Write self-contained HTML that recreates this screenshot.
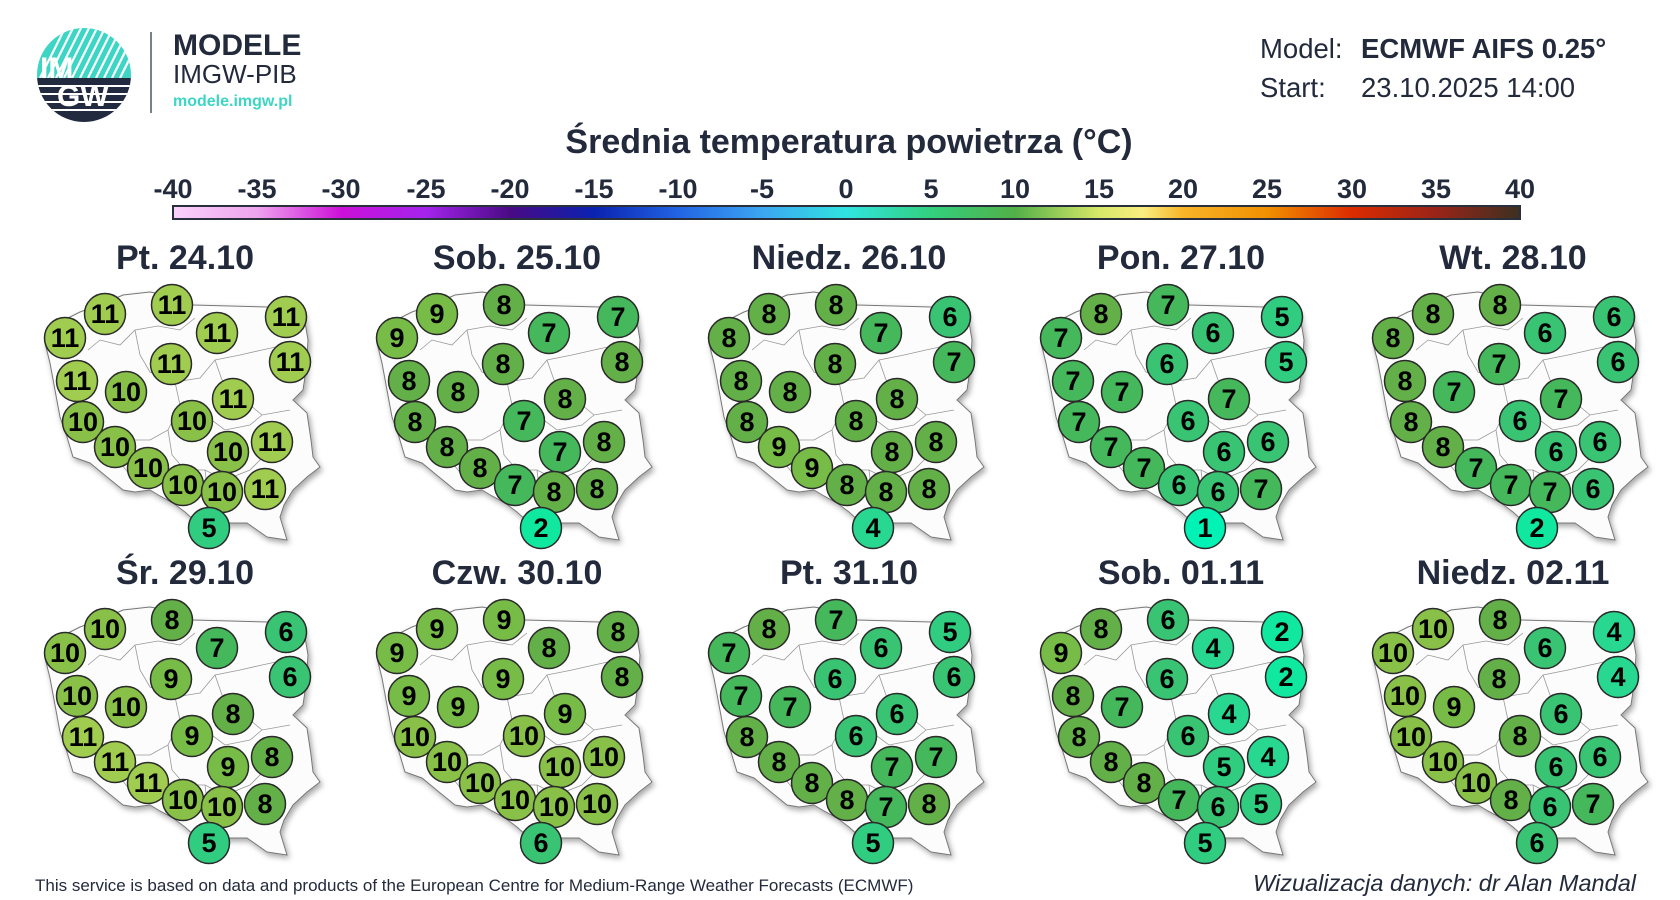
<!DOCTYPE html>
<html><head><meta charset="utf-8"><style>
html,body{margin:0;padding:0;background:#fff;}
svg{display:block;font-family:"Liberation Sans",sans-serif;}
.n{font-weight:bold;font-size:27px;fill:#000;text-anchor:middle;}
.c circle{stroke:#2a2a2a;stroke-width:1.5;}
.d{font-weight:bold;font-size:34px;fill:#222a3c;text-anchor:middle;}
.t{font-weight:bold;font-size:27px;fill:#222a3c;text-anchor:middle;}
</style></head><body>
<svg width="1680" height="900" viewBox="0 0 1680 900" xmlns="http://www.w3.org/2000/svg">
<defs>
<linearGradient id="cb" x1="0" x2="1" y1="0" y2="0">
<stop offset="0" stop-color="#fad2fa"/><stop offset="0.0625" stop-color="#eea4ee"/><stop offset="0.125" stop-color="#cc10d8"/><stop offset="0.1875" stop-color="#a424ec"/><stop offset="0.25" stop-color="#4a0a86"/><stop offset="0.3125" stop-color="#0a22b0"/><stop offset="0.375" stop-color="#2264e4"/><stop offset="0.4375" stop-color="#3ca6f2"/><stop offset="0.5" stop-color="#30e4e0"/><stop offset="0.5625" stop-color="#32d07e"/><stop offset="0.625" stop-color="#52b048"/><stop offset="0.6875" stop-color="#d8e868"/><stop offset="0.72" stop-color="#f8ee80"/><stop offset="0.75" stop-color="#f8b428"/><stop offset="0.8125" stop-color="#f09000"/><stop offset="0.875" stop-color="#dc2c00"/><stop offset="0.9375" stop-color="#9a2418"/><stop offset="1" stop-color="#3c3020"/>
</linearGradient>
<filter id="sh" x="-10%" y="-10%" width="120%" height="120%"><feDropShadow dx="2" dy="3" stdDeviation="3" flood-color="#000" flood-opacity="0.35"/></filter>
<clipPath id="lc"><circle cx="84" cy="75" r="47"/></clipPath>
<g id="pl">
<path filter="url(#sh)" fill="#fcfcfc" stroke="#777" stroke-width="1" d="M45,343 L52,326 L80,312 L105,303 L123,295 L150,292 L172,296 L193,305 L230,306 L267,307 L303,310 L308,340 L306,370 L303,390 L293,400 L307,413 L311,440 L313,457 L320,467 L307,477 L293,490 L284,505 L280,517 L287,540 L267,537 L247,523 L227,523 L212,520 L197,523 L185,512 L173,503 L160,496 L150,490 L135,492 L123,490 L107,477 L90,463 L73,457 L67,437 L60,417 L55,390 L50,363 Z"/>
<path fill="none" stroke="#999" stroke-width="0.8" d="M88,350 L100,340 L120,345 L135,330 L158,326 L180,330 L195,318 M135,330 L140,355 L150,372 L175,382 L200,378 L215,360 L240,355 L262,350 L285,345 M215,360 L222,380 L238,395 L262,415 L290,410 M175,382 L180,405 L168,430 L150,440 L125,440 L100,430 L80,410 M180,405 L205,415 L225,430 L250,425 L262,415 M168,430 L172,455 L185,470 L205,470 L225,480 L250,470 L265,455 M205,470 L208,495 L220,510 M120,440 L118,460 L130,475"/>
</g>
</defs>

<g clip-path="url(#lc)">
<rect x="30" y="23" width="110" height="55" fill="#3dd6c4"/>
<g stroke="#fff" stroke-width="2.2">
<line x1="40" y1="78" x2="70" y2="18"/><line x1="48" y1="78" x2="78" y2="18"/><line x1="56" y1="78" x2="86" y2="18"/><line x1="64" y1="78" x2="94" y2="18"/><line x1="72" y1="78" x2="102" y2="18"/><line x1="80" y1="78" x2="110" y2="18"/><line x1="88" y1="78" x2="118" y2="18"/><line x1="96" y1="78" x2="126" y2="18"/><line x1="104" y1="78" x2="134" y2="18"/><line x1="112" y1="78" x2="142" y2="18"/><line x1="120" y1="78" x2="150" y2="18"/>
</g>
<rect x="30" y="78" width="110" height="50" fill="#222a40"/>
<g stroke="#fff" stroke-width="2"><line x1="30" y1="86" x2="140" y2="86"/><line x1="30" y1="94" x2="140" y2="94"/><line x1="30" y1="102" x2="140" y2="102"/><line x1="30" y1="110" x2="140" y2="110"/></g>
</g>
<text x="40" y="78" font-size="30" font-weight="bold" fill="#fff">IM</text>
<text x="57" y="106" font-size="30" font-weight="bold" fill="#fff">GW</text>
<line x1="151" y1="32" x2="151" y2="113" stroke="#7a7f8c" stroke-width="2"/>
<text x="173" y="55" font-size="30" font-weight="bold" fill="#222a3c">MODELE</text>
<text x="173" y="83" font-size="26" fill="#222a3c">IMGW-PIB</text>
<text x="173" y="106" font-size="16" font-weight="bold" fill="#3dd6c4">modele.imgw.pl</text>

<text x="1260" y="58" font-size="27.5" fill="#222a3c">Model:</text>
<text x="1361" y="58" font-size="27.5" font-weight="bold" fill="#222a3c">ECMWF AIFS 0.25°</text>
<text x="1260" y="97" font-size="27.5" fill="#222a3c">Start:</text>
<text x="1361" y="97" font-size="27.5" fill="#222a3c">23.10.2025 14:00</text>

<text x="849" y="153" font-size="34" font-weight="bold" fill="#222a3c" text-anchor="middle">Średnia temperatura powietrza (°C)</text>

<rect x="173" y="206" width="1347" height="13" fill="url(#cb)" stroke="#2a2f3c" stroke-width="2"/>
<g class="t">
<text x="173" y="198">-40</text><text x="257" y="198">-35</text><text x="341" y="198">-30</text><text x="426" y="198">-25</text><text x="510" y="198">-20</text><text x="594" y="198">-15</text><text x="678" y="198">-10</text><text x="762" y="198">-5</text><text x="846" y="198">0</text><text x="931" y="198">5</text><text x="1015" y="198">10</text><text x="1099" y="198">15</text><text x="1183" y="198">20</text><text x="1267" y="198">25</text><text x="1352" y="198">30</text><text x="1436" y="198">35</text><text x="1520" y="198">40</text>
</g>

<g class="d">
<text x="185" y="269">Pt. 24.10</text><text x="517" y="269">Sob. 25.10</text><text x="849" y="269">Niedz. 26.10</text><text x="1181" y="269">Pon. 27.10</text><text x="1513" y="269">Wt. 28.10</text>
<text x="185" y="584">Śr. 29.10</text><text x="517" y="584">Czw. 30.10</text><text x="849" y="584">Pt. 31.10</text><text x="1181" y="584">Sob. 01.11</text><text x="1513" y="584">Niedz. 02.11</text>
</g>

<g id="m1">
<use href="#pl"/>
<g class="c">
<circle cx="65" cy="338" r="20.5" fill="#a0cc50"/><circle cx="105" cy="314" r="20.5" fill="#a0cc50"/><circle cx="172" cy="305" r="20.5" fill="#a0cc50"/><circle cx="217" cy="333" r="20.5" fill="#a0cc50"/><circle cx="286" cy="317" r="20.5" fill="#a0cc50"/><circle cx="290" cy="362" r="20.5" fill="#a0cc50"/><circle cx="77" cy="381" r="20.5" fill="#a0cc50"/><circle cx="126" cy="392" r="20.5" fill="#88c048"/><circle cx="171" cy="364" r="20.5" fill="#a0cc50"/><circle cx="83" cy="422" r="20.5" fill="#88c048"/><circle cx="192" cy="421" r="20.5" fill="#88c048"/><circle cx="233" cy="399" r="20.5" fill="#a0cc50"/><circle cx="115" cy="447" r="20.5" fill="#88c048"/><circle cx="228" cy="452" r="20.5" fill="#88c048"/><circle cx="272" cy="442" r="20.5" fill="#a0cc50"/><circle cx="148" cy="468" r="20.5" fill="#88c048"/><circle cx="183" cy="485" r="20.5" fill="#88c048"/><circle cx="222" cy="492" r="20.5" fill="#88c048"/><circle cx="265" cy="489" r="20.5" fill="#a0cc50"/><circle cx="209" cy="528" r="20.5" fill="#30cc80"/>
</g>
</g>
<g class="n">
<text x="65" y="347">11</text><text x="105" y="323">11</text><text x="172" y="314">11</text><text x="217" y="342">11</text><text x="286" y="326">11</text><text x="290" y="371">11</text><text x="77" y="390">11</text><text x="126" y="401">10</text><text x="171" y="373">11</text><text x="83" y="431">10</text><text x="192" y="430">10</text><text x="233" y="408">11</text><text x="115" y="456">10</text><text x="228" y="461">10</text><text x="272" y="451">11</text><text x="148" y="477">10</text><text x="183" y="494">10</text><text x="222" y="501">10</text><text x="265" y="498">11</text><text x="209" y="537">5</text>
</g>

<g transform="translate(332,0)"><use href="#pl"/><g class="c">
<circle cx="65" cy="338" r="20.5" fill="#78bc48"/><circle cx="105" cy="314" r="20.5" fill="#78bc48"/><circle cx="172" cy="305" r="20.5" fill="#64b048"/><circle cx="217" cy="333" r="20.5" fill="#44b85a"/><circle cx="286" cy="317" r="20.5" fill="#44b85a"/><circle cx="290" cy="362" r="20.5" fill="#64b048"/><circle cx="77" cy="381" r="20.5" fill="#64b048"/><circle cx="126" cy="392" r="20.5" fill="#64b048"/><circle cx="171" cy="364" r="20.5" fill="#64b048"/><circle cx="83" cy="422" r="20.5" fill="#64b048"/><circle cx="192" cy="421" r="20.5" fill="#44b85a"/><circle cx="233" cy="399" r="20.5" fill="#64b048"/><circle cx="115" cy="447" r="20.5" fill="#64b048"/><circle cx="228" cy="452" r="20.5" fill="#44b85a"/><circle cx="272" cy="442" r="20.5" fill="#64b048"/><circle cx="148" cy="468" r="20.5" fill="#64b048"/><circle cx="183" cy="485" r="20.5" fill="#44b85a"/><circle cx="222" cy="492" r="20.5" fill="#64b048"/><circle cx="265" cy="489" r="20.5" fill="#64b048"/><circle cx="209" cy="528" r="20.5" fill="#10e8a0"/>
</g><g class="n">
<text x="65" y="347">9</text><text x="105" y="323">9</text><text x="172" y="314">8</text><text x="217" y="342">7</text><text x="286" y="326">7</text><text x="290" y="371">8</text><text x="77" y="390">8</text><text x="126" y="401">8</text><text x="171" y="373">8</text><text x="83" y="431">8</text><text x="192" y="430">7</text><text x="233" y="408">8</text><text x="115" y="456">8</text><text x="228" y="461">7</text><text x="272" y="451">8</text><text x="148" y="477">8</text><text x="183" y="494">7</text><text x="222" y="501">8</text><text x="265" y="498">8</text><text x="209" y="537">2</text>
</g></g>

<g transform="translate(664,0)"><use href="#pl"/><g class="c">
<circle cx="65" cy="338" r="20.5" fill="#64b048"/><circle cx="105" cy="314" r="20.5" fill="#64b048"/><circle cx="172" cy="305" r="20.5" fill="#64b048"/><circle cx="217" cy="333" r="20.5" fill="#44b85a"/><circle cx="286" cy="317" r="20.5" fill="#38c472"/><circle cx="290" cy="362" r="20.5" fill="#44b85a"/><circle cx="77" cy="381" r="20.5" fill="#64b048"/><circle cx="126" cy="392" r="20.5" fill="#64b048"/><circle cx="171" cy="364" r="20.5" fill="#64b048"/><circle cx="83" cy="422" r="20.5" fill="#64b048"/><circle cx="192" cy="421" r="20.5" fill="#64b048"/><circle cx="233" cy="399" r="20.5" fill="#64b048"/><circle cx="115" cy="447" r="20.5" fill="#78bc48"/><circle cx="228" cy="452" r="20.5" fill="#64b048"/><circle cx="272" cy="442" r="20.5" fill="#64b048"/><circle cx="148" cy="468" r="20.5" fill="#78bc48"/><circle cx="183" cy="485" r="20.5" fill="#64b048"/><circle cx="222" cy="492" r="20.5" fill="#64b048"/><circle cx="265" cy="489" r="20.5" fill="#64b048"/><circle cx="209" cy="528" r="20.5" fill="#28d890"/>
</g><g class="n">
<text x="65" y="347">8</text><text x="105" y="323">8</text><text x="172" y="314">8</text><text x="217" y="342">7</text><text x="286" y="326">6</text><text x="290" y="371">7</text><text x="77" y="390">8</text><text x="126" y="401">8</text><text x="171" y="373">8</text><text x="83" y="431">8</text><text x="192" y="430">8</text><text x="233" y="408">8</text><text x="115" y="456">9</text><text x="228" y="461">8</text><text x="272" y="451">8</text><text x="148" y="477">9</text><text x="183" y="494">8</text><text x="222" y="501">8</text><text x="265" y="498">8</text><text x="209" y="537">4</text>
</g></g>

<g transform="translate(996,0)"><use href="#pl"/><g class="c">
<circle cx="65" cy="338" r="20.5" fill="#44b85a"/><circle cx="105" cy="314" r="20.5" fill="#64b048"/><circle cx="172" cy="305" r="20.5" fill="#44b85a"/><circle cx="217" cy="333" r="20.5" fill="#38c472"/><circle cx="286" cy="317" r="20.5" fill="#30cc80"/><circle cx="290" cy="362" r="20.5" fill="#30cc80"/><circle cx="77" cy="381" r="20.5" fill="#44b85a"/><circle cx="126" cy="392" r="20.5" fill="#44b85a"/><circle cx="171" cy="364" r="20.5" fill="#38c472"/><circle cx="83" cy="422" r="20.5" fill="#44b85a"/><circle cx="192" cy="421" r="20.5" fill="#38c472"/><circle cx="233" cy="399" r="20.5" fill="#44b85a"/><circle cx="115" cy="447" r="20.5" fill="#44b85a"/><circle cx="228" cy="452" r="20.5" fill="#38c472"/><circle cx="272" cy="442" r="20.5" fill="#38c472"/><circle cx="148" cy="468" r="20.5" fill="#44b85a"/><circle cx="183" cy="485" r="20.5" fill="#38c472"/><circle cx="222" cy="492" r="20.5" fill="#38c472"/><circle cx="265" cy="489" r="20.5" fill="#44b85a"/><circle cx="209" cy="528" r="20.5" fill="#00f2b4"/>
</g><g class="n">
<text x="65" y="347">7</text><text x="105" y="323">8</text><text x="172" y="314">7</text><text x="217" y="342">6</text><text x="286" y="326">5</text><text x="290" y="371">5</text><text x="77" y="390">7</text><text x="126" y="401">7</text><text x="171" y="373">6</text><text x="83" y="431">7</text><text x="192" y="430">6</text><text x="233" y="408">7</text><text x="115" y="456">7</text><text x="228" y="461">6</text><text x="272" y="451">6</text><text x="148" y="477">7</text><text x="183" y="494">6</text><text x="222" y="501">6</text><text x="265" y="498">7</text><text x="209" y="537">1</text>
</g></g>

<g transform="translate(1328,0)"><use href="#pl"/><g class="c">
<circle cx="65" cy="338" r="20.5" fill="#64b048"/><circle cx="105" cy="314" r="20.5" fill="#64b048"/><circle cx="172" cy="305" r="20.5" fill="#64b048"/><circle cx="217" cy="333" r="20.5" fill="#38c472"/><circle cx="286" cy="317" r="20.5" fill="#38c472"/><circle cx="290" cy="362" r="20.5" fill="#38c472"/><circle cx="77" cy="381" r="20.5" fill="#64b048"/><circle cx="126" cy="392" r="20.5" fill="#44b85a"/><circle cx="171" cy="364" r="20.5" fill="#44b85a"/><circle cx="83" cy="422" r="20.5" fill="#64b048"/><circle cx="192" cy="421" r="20.5" fill="#38c472"/><circle cx="233" cy="399" r="20.5" fill="#44b85a"/><circle cx="115" cy="447" r="20.5" fill="#64b048"/><circle cx="228" cy="452" r="20.5" fill="#38c472"/><circle cx="272" cy="442" r="20.5" fill="#38c472"/><circle cx="148" cy="468" r="20.5" fill="#44b85a"/><circle cx="183" cy="485" r="20.5" fill="#44b85a"/><circle cx="222" cy="492" r="20.5" fill="#44b85a"/><circle cx="265" cy="489" r="20.5" fill="#38c472"/><circle cx="209" cy="528" r="20.5" fill="#10e8a0"/>
</g><g class="n">
<text x="65" y="347">8</text><text x="105" y="323">8</text><text x="172" y="314">8</text><text x="217" y="342">6</text><text x="286" y="326">6</text><text x="290" y="371">6</text><text x="77" y="390">8</text><text x="126" y="401">7</text><text x="171" y="373">7</text><text x="83" y="431">8</text><text x="192" y="430">6</text><text x="233" y="408">7</text><text x="115" y="456">8</text><text x="228" y="461">6</text><text x="272" y="451">6</text><text x="148" y="477">7</text><text x="183" y="494">7</text><text x="222" y="501">7</text><text x="265" y="498">6</text><text x="209" y="537">2</text>
</g></g>

<g transform="translate(0,315)"><use href="#pl"/><g class="c">
<circle cx="65" cy="338" r="20.5" fill="#88c048"/><circle cx="105" cy="314" r="20.5" fill="#88c048"/><circle cx="172" cy="305" r="20.5" fill="#64b048"/><circle cx="217" cy="333" r="20.5" fill="#44b85a"/><circle cx="286" cy="317" r="20.5" fill="#38c472"/><circle cx="290" cy="362" r="20.5" fill="#38c472"/><circle cx="77" cy="381" r="20.5" fill="#88c048"/><circle cx="126" cy="392" r="20.5" fill="#88c048"/><circle cx="171" cy="364" r="20.5" fill="#78bc48"/><circle cx="83" cy="422" r="20.5" fill="#a0cc50"/><circle cx="192" cy="421" r="20.5" fill="#78bc48"/><circle cx="233" cy="399" r="20.5" fill="#64b048"/><circle cx="115" cy="447" r="20.5" fill="#a0cc50"/><circle cx="228" cy="452" r="20.5" fill="#78bc48"/><circle cx="272" cy="442" r="20.5" fill="#64b048"/><circle cx="148" cy="468" r="20.5" fill="#a0cc50"/><circle cx="183" cy="485" r="20.5" fill="#88c048"/><circle cx="222" cy="492" r="20.5" fill="#88c048"/><circle cx="265" cy="489" r="20.5" fill="#64b048"/><circle cx="209" cy="528" r="20.5" fill="#30cc80"/>
</g><g class="n">
<text x="65" y="347">10</text><text x="105" y="323">10</text><text x="172" y="314">8</text><text x="217" y="342">7</text><text x="286" y="326">6</text><text x="290" y="371">6</text><text x="77" y="390">10</text><text x="126" y="401">10</text><text x="171" y="373">9</text><text x="83" y="431">11</text><text x="192" y="430">9</text><text x="233" y="408">8</text><text x="115" y="456">11</text><text x="228" y="461">9</text><text x="272" y="451">8</text><text x="148" y="477">11</text><text x="183" y="494">10</text><text x="222" y="501">10</text><text x="265" y="498">8</text><text x="209" y="537">5</text>
</g></g>

<g transform="translate(332,315)"><use href="#pl"/><g class="c">
<circle cx="65" cy="338" r="20.5" fill="#78bc48"/><circle cx="105" cy="314" r="20.5" fill="#78bc48"/><circle cx="172" cy="305" r="20.5" fill="#78bc48"/><circle cx="217" cy="333" r="20.5" fill="#64b048"/><circle cx="286" cy="317" r="20.5" fill="#64b048"/><circle cx="290" cy="362" r="20.5" fill="#64b048"/><circle cx="77" cy="381" r="20.5" fill="#78bc48"/><circle cx="126" cy="392" r="20.5" fill="#78bc48"/><circle cx="171" cy="364" r="20.5" fill="#78bc48"/><circle cx="83" cy="422" r="20.5" fill="#88c048"/><circle cx="192" cy="421" r="20.5" fill="#88c048"/><circle cx="233" cy="399" r="20.5" fill="#78bc48"/><circle cx="115" cy="447" r="20.5" fill="#88c048"/><circle cx="228" cy="452" r="20.5" fill="#88c048"/><circle cx="272" cy="442" r="20.5" fill="#88c048"/><circle cx="148" cy="468" r="20.5" fill="#88c048"/><circle cx="183" cy="485" r="20.5" fill="#88c048"/><circle cx="222" cy="492" r="20.5" fill="#88c048"/><circle cx="265" cy="489" r="20.5" fill="#88c048"/><circle cx="209" cy="528" r="20.5" fill="#38c472"/>
</g><g class="n">
<text x="65" y="347">9</text><text x="105" y="323">9</text><text x="172" y="314">9</text><text x="217" y="342">8</text><text x="286" y="326">8</text><text x="290" y="371">8</text><text x="77" y="390">9</text><text x="126" y="401">9</text><text x="171" y="373">9</text><text x="83" y="431">10</text><text x="192" y="430">10</text><text x="233" y="408">9</text><text x="115" y="456">10</text><text x="228" y="461">10</text><text x="272" y="451">10</text><text x="148" y="477">10</text><text x="183" y="494">10</text><text x="222" y="501">10</text><text x="265" y="498">10</text><text x="209" y="537">6</text>
</g></g>

<g transform="translate(664,315)"><use href="#pl"/><g class="c">
<circle cx="65" cy="338" r="20.5" fill="#44b85a"/><circle cx="105" cy="314" r="20.5" fill="#64b048"/><circle cx="172" cy="305" r="20.5" fill="#44b85a"/><circle cx="217" cy="333" r="20.5" fill="#38c472"/><circle cx="286" cy="317" r="20.5" fill="#30cc80"/><circle cx="290" cy="362" r="20.5" fill="#38c472"/><circle cx="77" cy="381" r="20.5" fill="#44b85a"/><circle cx="126" cy="392" r="20.5" fill="#44b85a"/><circle cx="171" cy="364" r="20.5" fill="#38c472"/><circle cx="83" cy="422" r="20.5" fill="#64b048"/><circle cx="192" cy="421" r="20.5" fill="#38c472"/><circle cx="233" cy="399" r="20.5" fill="#38c472"/><circle cx="115" cy="447" r="20.5" fill="#64b048"/><circle cx="228" cy="452" r="20.5" fill="#44b85a"/><circle cx="272" cy="442" r="20.5" fill="#44b85a"/><circle cx="148" cy="468" r="20.5" fill="#64b048"/><circle cx="183" cy="485" r="20.5" fill="#64b048"/><circle cx="222" cy="492" r="20.5" fill="#44b85a"/><circle cx="265" cy="489" r="20.5" fill="#64b048"/><circle cx="209" cy="528" r="20.5" fill="#30cc80"/>
</g><g class="n">
<text x="65" y="347">7</text><text x="105" y="323">8</text><text x="172" y="314">7</text><text x="217" y="342">6</text><text x="286" y="326">5</text><text x="290" y="371">6</text><text x="77" y="390">7</text><text x="126" y="401">7</text><text x="171" y="373">6</text><text x="83" y="431">8</text><text x="192" y="430">6</text><text x="233" y="408">6</text><text x="115" y="456">8</text><text x="228" y="461">7</text><text x="272" y="451">7</text><text x="148" y="477">8</text><text x="183" y="494">8</text><text x="222" y="501">7</text><text x="265" y="498">8</text><text x="209" y="537">5</text>
</g></g>

<g transform="translate(996,315)"><use href="#pl"/><g class="c">
<circle cx="65" cy="338" r="20.5" fill="#78bc48"/><circle cx="105" cy="314" r="20.5" fill="#64b048"/><circle cx="172" cy="305" r="20.5" fill="#38c472"/><circle cx="217" cy="333" r="20.5" fill="#28d890"/><circle cx="286" cy="317" r="20.5" fill="#10e8a0"/><circle cx="290" cy="362" r="20.5" fill="#10e8a0"/><circle cx="77" cy="381" r="20.5" fill="#64b048"/><circle cx="126" cy="392" r="20.5" fill="#44b85a"/><circle cx="171" cy="364" r="20.5" fill="#38c472"/><circle cx="83" cy="422" r="20.5" fill="#64b048"/><circle cx="192" cy="421" r="20.5" fill="#38c472"/><circle cx="233" cy="399" r="20.5" fill="#28d890"/><circle cx="115" cy="447" r="20.5" fill="#64b048"/><circle cx="228" cy="452" r="20.5" fill="#30cc80"/><circle cx="272" cy="442" r="20.5" fill="#28d890"/><circle cx="148" cy="468" r="20.5" fill="#64b048"/><circle cx="183" cy="485" r="20.5" fill="#44b85a"/><circle cx="222" cy="492" r="20.5" fill="#38c472"/><circle cx="265" cy="489" r="20.5" fill="#30cc80"/><circle cx="209" cy="528" r="20.5" fill="#30cc80"/>
</g><g class="n">
<text x="65" y="347">9</text><text x="105" y="323">8</text><text x="172" y="314">6</text><text x="217" y="342">4</text><text x="286" y="326">2</text><text x="290" y="371">2</text><text x="77" y="390">8</text><text x="126" y="401">7</text><text x="171" y="373">6</text><text x="83" y="431">8</text><text x="192" y="430">6</text><text x="233" y="408">4</text><text x="115" y="456">8</text><text x="228" y="461">5</text><text x="272" y="451">4</text><text x="148" y="477">8</text><text x="183" y="494">7</text><text x="222" y="501">6</text><text x="265" y="498">5</text><text x="209" y="537">5</text>
</g></g>

<g transform="translate(1328,315)"><use href="#pl"/><g class="c">
<circle cx="65" cy="338" r="20.5" fill="#88c048"/><circle cx="105" cy="314" r="20.5" fill="#88c048"/><circle cx="172" cy="305" r="20.5" fill="#64b048"/><circle cx="217" cy="333" r="20.5" fill="#38c472"/><circle cx="286" cy="317" r="20.5" fill="#28d890"/><circle cx="290" cy="362" r="20.5" fill="#28d890"/><circle cx="77" cy="381" r="20.5" fill="#88c048"/><circle cx="126" cy="392" r="20.5" fill="#78bc48"/><circle cx="171" cy="364" r="20.5" fill="#64b048"/><circle cx="83" cy="422" r="20.5" fill="#88c048"/><circle cx="192" cy="421" r="20.5" fill="#64b048"/><circle cx="233" cy="399" r="20.5" fill="#38c472"/><circle cx="115" cy="447" r="20.5" fill="#88c048"/><circle cx="228" cy="452" r="20.5" fill="#38c472"/><circle cx="272" cy="442" r="20.5" fill="#38c472"/><circle cx="148" cy="468" r="20.5" fill="#88c048"/><circle cx="183" cy="485" r="20.5" fill="#64b048"/><circle cx="222" cy="492" r="20.5" fill="#38c472"/><circle cx="265" cy="489" r="20.5" fill="#44b85a"/><circle cx="209" cy="528" r="20.5" fill="#38c472"/>
</g><g class="n">
<text x="65" y="347">10</text><text x="105" y="323">10</text><text x="172" y="314">8</text><text x="217" y="342">6</text><text x="286" y="326">4</text><text x="290" y="371">4</text><text x="77" y="390">10</text><text x="126" y="401">9</text><text x="171" y="373">8</text><text x="83" y="431">10</text><text x="192" y="430">8</text><text x="233" y="408">6</text><text x="115" y="456">10</text><text x="228" y="461">6</text><text x="272" y="451">6</text><text x="148" y="477">10</text><text x="183" y="494">8</text><text x="222" y="501">6</text><text x="265" y="498">7</text><text x="209" y="537">6</text>
</g></g>

<text x="35" y="891" font-size="17" fill="#222a3c">This service is based on data and products of the European Centre for Medium-Range Weather Forecasts (ECMWF)</text>
<text x="1636" y="891" font-size="23.5" font-style="italic" fill="#222a3c" text-anchor="end">Wizualizacja danych: dr Alan Mandal</text>
</svg>
</body></html>
